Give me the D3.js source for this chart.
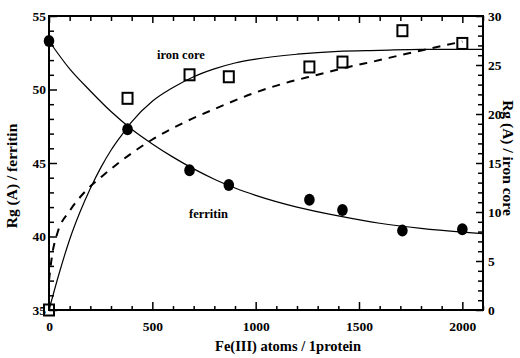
<!DOCTYPE html>
<html>
<head>
<meta charset="utf-8">
<script src="https://cdn.jsdelivr.net/npm/d3@7"></script>
<style>
  body { margin: 0; background: #fff; }
  svg { display: block; font-family: "Liberation Serif", "Times New Roman", serif; font-weight: bold; }
</style>
</head>
<body>
<div id="chart"></div>
<script>
// measured points
const feAtoms = [0, 380, 680, 870, 1260, 1420, 1710, 2000];
const ferritinRg = [53.3, 47.3, 44.5, 43.5, 42.5, 41.8, 40.4, 40.5];
const ironCoreRg = [0, 21.6, 24.0, 23.8, 24.8, 25.3, 28.5, 27.2];

// fitted curves
const ferritinFitX = [0, 100, 200, 300, 400, 500, 600, 700, 800, 900, 1000, 1200, 1400, 1600, 1800, 2000, 2100];
const ferritinFitY = [53.3, 51.4, 49.9, 48.5, 47.3, 46.3, 45.4, 44.6, 43.9, 43.3, 42.8, 42.0, 41.4, 40.9, 40.55, 40.3, 40.2];

const coreFitX = [0, 50, 100, 150, 200, 250, 300, 350, 400, 500, 600, 700, 800, 900, 1000, 1200, 1400, 1600, 1800, 2100];
const coreFitY = [0, 3.8, 7.2, 10.0, 12.4, 14.5, 16.3, 17.8, 19.2, 21.3, 22.7, 23.8, 24.6, 25.2, 25.6, 26.1, 26.4, 26.5, 26.6, 26.6];

const coreDashX = [0, 15, 40, 100, 180, 260, 330, 400, 500, 650, 800, 1000, 1150, 1300, 1450, 1600, 1700, 1850, 2000];
const coreDashY = [3.0, 5.6, 7.8, 10.1, 12.2, 13.7, 14.9, 16.0, 17.4, 19.1, 20.5, 22.2, 23.2, 24.0, 24.8, 25.5, 26.0, 26.7, 27.4];

// ticks
const xMajor = [0, 500, 1000, 1500, 2000];
const yLeftMajor = [35, 40, 45, 50, 55];
const yRightMajor = [0, 5, 10, 15, 20, 25, 30];

const width = 520, height = 358;
const m = { left: 49, right: 483, top: 16, bottom: 310 };

const svg = d3.select("#chart").append("svg")
  .attr("width", width)
  .attr("height", height);

const x = d3.scaleLinear().domain([0, 2100]).range([m.left, m.right]);
const yL = d3.scaleLinear().domain([35, 55]).range([m.bottom, m.top]);
const yR = d3.scaleLinear().domain([0, 30]).range([m.bottom, m.top]);

const xMinor = d3.range(0, 2101, 100).filter(v => v % 500 !== 0);
const yLeftMinor = d3.range(35, 56, 1).filter(v => v % 5 !== 0);
const yRightMinor = d3.range(0, 31, 1).filter(v => v % 5 !== 0);

function styleAxis(g) {
  g.attr("font-family", null).attr("font-size", null);
  g.select(".domain").remove();
  g.selectAll("line").attr("stroke", "#000").attr("stroke-width", 1.5);
  g.selectAll("text").attr("fill", "#000").style("font-size", "13.5px")
    .style("font-family", "'Liberation Serif', serif").style("font-weight", "bold");
}

// bottom axis
svg.append("g").attr("transform", `translate(0,${m.bottom})`)
  .call(d3.axisBottom(x).tickValues(xMajor).tickSize(-8).tickPadding(11).tickFormat(d3.format("d")))
  .call(styleAxis);
svg.append("g").attr("transform", `translate(0,${m.bottom})`)
  .call(d3.axisBottom(x).tickValues(xMinor).tickSize(-4).tickFormat(""))
  .call(styleAxis);

// top axis (ticks only)
svg.append("g").attr("transform", `translate(0,${m.top})`)
  .call(d3.axisTop(x).tickValues(xMajor).tickSize(-7).tickFormat(""))
  .call(styleAxis);
svg.append("g").attr("transform", `translate(0,${m.top})`)
  .call(d3.axisTop(x).tickValues(xMinor).tickSize(-5).tickFormat(""))
  .call(styleAxis);

// left axis
svg.append("g").attr("transform", `translate(${m.left},0)`)
  .call(d3.axisLeft(yL).tickValues(yLeftMajor).tickSize(-8).tickPadding(3))
  .call(styleAxis);
svg.append("g").attr("transform", `translate(${m.left},0)`)
  .call(d3.axisLeft(yL).tickValues(yLeftMinor).tickSize(-5).tickFormat(""))
  .call(styleAxis);

// right axis
svg.append("g").attr("transform", `translate(${m.right},0)`)
  .call(d3.axisRight(yR).tickValues(yRightMajor).tickSize(-7).tickPadding(5))
  .call(styleAxis);
svg.append("g").attr("transform", `translate(${m.right},0)`)
  .call(d3.axisRight(yR).tickValues(yRightMinor).tickSize(-5).tickFormat(""))
  .call(styleAxis);

// frame
svg.append("rect")
  .attr("x", m.left).attr("y", m.top)
  .attr("width", m.right - m.left).attr("height", m.bottom - m.top)
  .attr("fill", "none").attr("stroke", "#000").attr("stroke-width", 2);

// curves
const lineL = d3.line().x(d => x(d[0])).y(d => yL(d[1])).curve(d3.curveMonotoneX);
const lineR = d3.line().x(d => x(d[0])).y(d => yR(d[1])).curve(d3.curveMonotoneX);

svg.append("path")
  .datum(ferritinFitX.map((v, i) => [v, ferritinFitY[i]]))
  .attr("d", lineL).attr("fill", "none").attr("stroke", "#000").attr("stroke-width", 1.2);

svg.append("path")
  .datum(coreFitX.map((v, i) => [v, coreFitY[i]]))
  .attr("d", lineR).attr("fill", "none").attr("stroke", "#000").attr("stroke-width", 1.2);

svg.append("path")
  .datum(coreDashX.map((v, i) => [v, coreDashY[i]]))
  .attr("d", lineR).attr("fill", "none").attr("stroke", "#000").attr("stroke-width", 2)
  .attr("stroke-dasharray", "8,7");

// markers
svg.selectAll("ellipse.ferritin")
  .data(feAtoms)
  .join("ellipse")
  .attr("class", "ferritin")
  .attr("cx", d => x(d))
  .attr("cy", (d, i) => yL(ferritinRg[i]))
  .attr("rx", 5.3).attr("ry", 6)
  .attr("fill", "#000");

svg.selectAll("rect.core")
  .data(feAtoms)
  .join("rect")
  .attr("class", "core")
  .attr("x", d => x(d) - 5)
  .attr("y", (d, i) => yR(ironCoreRg[i]) - 5.5)
  .attr("width", 10).attr("height", 11)
  .attr("fill", "none").attr("stroke", "#000").attr("stroke-width", 2);

// annotations
svg.append("text").attr("x", 157).attr("y", 59).attr("font-size", 12.5).text("iron core");
svg.append("text").attr("x", 189).attr("y", 218).attr("font-size", 12.5).text("ferritin");

// axis titles
svg.append("text")
  .attr("x", 288).attr("y", 351)
  .attr("text-anchor", "middle").attr("font-size", 14.5)
  .text("Fe(III) atoms / 1protein");

svg.append("text")
  .attr("transform", "translate(17,176) rotate(-90)")
  .attr("text-anchor", "middle").attr("font-size", 15.5)
  .text("Rg (A) / ferritin");

svg.append("text")
  .attr("transform", "translate(503,158) rotate(90)")
  .attr("text-anchor", "middle").attr("font-size", 15.5)
  .text("Rg (A) / iron core");
</script>
</body>
</html>
